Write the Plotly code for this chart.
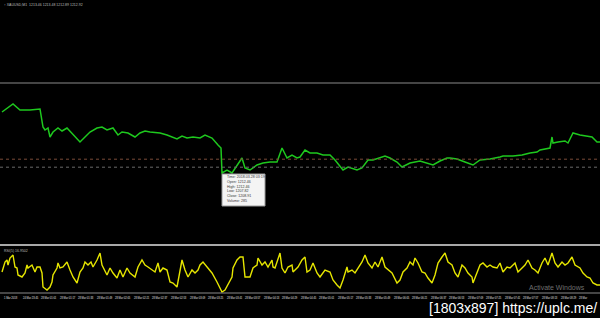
import plotly.graph_objects as go

W, H = 600, 318

# ---------------- data ----------------
bar_idx = [2, 13, 20, 30, 40, 41, 43, 45, 48, 50,
           53, 58, 62, 67, 70, 75, 80, 85, 90, 97,
           102, 107, 113, 118, 122, 128, 135, 140, 145, 150,
           160, 167, 177, 182, 187, 193, 200, 205, 212, 218,
           221, 222, 227, 232, 237, 242, 245, 250, 257, 263,
           270, 277, 282, 287, 292, 297, 300, 305, 310, 317,
           323, 330, 335, 343, 348, 357, 362, 368, 373, 380,
           385, 390, 397, 402, 410, 420, 427, 433, 440, 447,
           450, 457, 465, 473, 480, 490, 500, 503, 513, 522,
           530, 537, 540, 550, 552, 553, 558, 565, 568, 573,
           580, 587, 592, 597, 600]
close_price = [1223.00, 1225.00, 1223.50, 1223.50, 1223.75, 1221.75, 1219.25, 1218.50, 1219.00, 1216.75,
               1218.00, 1219.00, 1218.25, 1219.00, 1218.25, 1216.75, 1215.50, 1216.75, 1218.00, 1219.00,
               1219.25, 1218.50, 1219.00, 1217.25, 1218.00, 1217.75, 1216.75, 1217.75, 1218.25, 1218.00,
               1217.75, 1217.25, 1216.25, 1217.00, 1216.50, 1216.75, 1216.50, 1217.25, 1216.50, 1214.75,
               1214.00, 1207.75, 1208.50, 1207.75, 1209.75, 1211.50, 1209.00, 1208.50, 1209.75, 1210.25,
               1210.50, 1210.50, 1214.00, 1211.50, 1212.25, 1211.50, 1211.75, 1213.50, 1212.75, 1212.75,
               1212.25, 1212.25, 1211.00, 1208.50, 1209.25, 1208.50, 1209.00, 1211.00, 1211.00, 1211.50,
               1212.00, 1211.50, 1210.50, 1209.25, 1210.25, 1210.75, 1210.25, 1209.75, 1210.75, 1211.50,
               1211.50, 1211.25, 1210.50, 1209.75, 1211.00, 1211.25, 1211.75, 1212.00, 1212.00, 1212.25,
               1212.75, 1213.00, 1213.50, 1214.00, 1216.75, 1215.25, 1215.50, 1215.75, 1215.25, 1217.75,
               1217.25, 1217.00, 1216.75, 1215.50, 1215.50]

rsi_idx = [2, 5, 7, 8, 10, 13, 15, 17, 18, 22,
           25, 27, 28, 32, 35, 37, 40, 42, 43, 47,
           50, 52, 53, 57, 58, 60, 63, 67, 70, 73,
           77, 80, 83, 85, 88, 91, 93, 97, 100, 102,
           107, 110, 113, 117, 120, 123, 127, 130, 135, 138,
           142, 145, 148, 152, 155, 158, 160, 163, 167, 170,
           173, 177, 180, 182, 185, 188, 192, 195, 198,
           200, 203, 207, 212, 217, 222, 225, 228, 232, 233,
           237, 240, 243, 245, 250, 253, 257, 258, 262, 265,
           268, 272, 273, 275, 278, 280, 282, 285, 288, 292,
           293, 298, 302, 305, 307, 310, 313, 317, 320, 325,
           330, 333, 337, 340, 343, 347, 348, 352, 355, 358,
           362, 365, 368, 372, 375, 378, 382, 385, 388, 392,
           397,
           400, 403, 407, 410, 413, 415, 418, 422, 425, 428,
           432, 435, 438, 442, 445, 448, 452, 455, 458, 462,
           465, 468, 472, 473, 477, 480, 483, 487, 490, 493,
           497, 500, 503, 507, 510, 515, 518, 522, 525, 528,
           532, 535, 538, 542, 545, 548, 552, 555, 558, 562,
           565, 568, 572, 575, 580, 583, 587, 590, 593, 597, 600]
rsi_val = [42, 62, 66, 56, 70, 76, 52, 50, 36, 32,
           40, 56, 50, 56, 42, 52, 52, 40, 12, 6,
           12, 22, 36, 50, 60, 50, 52, 62, 46, 32,
           20, 42, 50, 62, 56, 62, 52, 66, 80, 56,
           36, 50, 40, 30, 46, 32, 50, 40, 32, 52,
           66, 56, 52, 46, 42, 60, 42, 50, 46, 22,
           20, 12, 46, 66, 46, 32, 46, 40, 46,
           56, 62, 52, 40, 22, 2, 6, 16, 32, 50,
           66, 72, 72, 32, 32, 50, 56, 70, 56, 62,
           52, 66, 52, 50, 66, 80, 50, 40, 52, 56,
           42, 52, 66, 72, 42, 46, 60, 40, 32, 46,
           42, 26, 16, 10, 26, 52, 42, 46, 40, 50,
           62, 76, 60, 50, 62, 52, 72, 52, 46, 40,
           20,
           26, 42, 50, 62, 56, 70, 60, 42, 40, 30,
           20, 36, 60, 72, 80, 62, 56, 40, 32, 56,
           50, 40, 32, 20, 40, 56, 60, 52, 56, 52,
           50, 60, 42, 52, 50, 60, 42, 50, 56, 66,
           50, 46, 40, 60, 70, 56, 80, 60, 52, 62,
           56, 60, 72, 56, 50, 40, 32, 30, 20, 16, 16]

time_labels = ["1 Mar 2018", "24 Mar 23:45", "28 Mar 01:01", "28 Mar 01:17", "28 Mar 01:33",
               "28 Mar 01:49", "28 Mar 02:05", "28 Mar 02:21", "28 Mar 02:37", "28 Mar 02:53",
               "28 Mar 03:09", "28 Mar 03:25", "28 Mar 03:41", "28 Mar 03:57", "28 Mar 04:13",
               "28 Mar 04:29", "28 Mar 04:45", "28 Mar 05:01", "28 Mar 05:17", "28 Mar 05:33",
               "28 Mar 05:49", "28 Mar 06:05", "28 Mar 06:21", "28 Mar 06:37", "28 Mar 06:53",
               "28 Mar 07:09", "28 Mar 07:25", "28 Mar 07:41", "28 Mar 07:57", "28 Mar 08:13",
               "28 Mar 08:29", "28 Mar"]

header_text = "↑ XAUUSD,M1  1213.46 1213.48 1212.89 1212.92"
rsi_label = "RSI(5) 16.9502"
resistance_level = 1230.25
ask_level = 1211.20
bid_level = 1209.20
tooltip_lines = ["Time: 2018.03.28 03:19", "Open: 1212.46", "High: 1212.46",
                 "Low: 1207.82", "Close: 1208.91", "Volume: 285"]


def px(x):
    return x / W


def py(y):
    return 1 - y / H


fig = go.Figure()
fig.add_trace(go.Scatter(x=bar_idx, y=close_price, mode="lines",
                         line=dict(color="#1ec81e", width=1.5), xaxis="x", yaxis="y",
                         hoverinfo="skip"))
fig.add_trace(go.Scatter(x=rsi_idx, y=rsi_val, mode="lines",
                         line=dict(color="#e6e600", width=1.4), xaxis="x2", yaxis="y2",
                         hoverinfo="skip"))

shapes = [
    dict(type="line", xref="paper", x0=0, x1=1, yref="y", y0=resistance_level, y1=resistance_level,
         line=dict(color="#8a8a8a", width=1)),
    dict(type="line", xref="paper", x0=0, x1=1, yref="y", y0=ask_level, y1=ask_level,
         line=dict(color="#7a4a38", width=1, dash="dot")),
    dict(type="line", xref="paper", x0=0, x1=1, yref="y", y0=bid_level, y1=bid_level,
         line=dict(color="#6a6a6a", width=1, dash="dot")),
    dict(type="line", xref="paper", x0=0, x1=1, yref="paper", y0=py(245), y1=py(245),
         line=dict(color="#a8a8a8", width=2)),
    dict(type="line", xref="paper", x0=0, x1=1, yref="paper", y0=py(293), y1=py(293),
         line=dict(color="#8a8a8a", width=1)),
    # tooltip box
    dict(type="rect", xref="paper", yref="paper", x0=px(222), x1=px(265), y0=py(206), y1=py(174),
         fillcolor="#f4f4f4", line=dict(color="#9a9a9a", width=1)),
]

annotations = [
    dict(text=header_text, x=px(2), y=py(1), xref="paper", yref="paper", xanchor="left", yanchor="top",
         showarrow=False, font=dict(size=3.5, color="#bbbbbb", family="Liberation Sans")),
    dict(text=rsi_label, x=px(2), y=py(247), xref="paper", yref="paper", xanchor="left", yanchor="top",
         showarrow=False, font=dict(size=3.5, color="#bbbbbb", family="Liberation Sans")),
    dict(text="Activate Windows", x=px(527), y=py(287), xref="paper", yref="paper", xanchor="left",
         yanchor="middle", showarrow=False, font=dict(size=7, color="#6f6f6f", family="Liberation Sans")),
    dict(text="[1803x897] https://uplc.me/", x=px(599), y=0, xref="paper", yref="paper",
         xanchor="right", yanchor="bottom", showarrow=False,
         font=dict(size=14, color="#ffffff", family="Liberation Sans")),
]
for i, t in enumerate(tooltip_lines):
    annotations.append(dict(text=t, x=px(225), y=py(177 + i * 4.8), xref="paper", yref="paper",
                            xanchor="left", yanchor="middle", showarrow=False,
                            font=dict(size=3.6, color="#333333", family="Liberation Sans")))

step = 18.55
for k, lab in enumerate(time_labels):
    annotations.append(dict(text=lab, x=px(2 + k * step), y=py(294.3), xref="paper", yref="paper",
                            xanchor="left", yanchor="top", showarrow=False,
                            font=dict(size=2.6, color="#e0e0e0", family="Liberation Sans")))

fig.update_layout(
    width=W, height=H, margin=dict(l=0, r=0, t=0, b=0),
    paper_bgcolor="#000000", plot_bgcolor="#000000", showlegend=False,
    xaxis=dict(domain=[0, 1], range=[0, 600], visible=False, anchor="y"),
    yaxis=dict(domain=[py(243), 1], range=[1251 - 0.25 * 243, 1251], visible=False),
    xaxis2=dict(domain=[0, 1], range=[0, 600], visible=False, anchor="y2"),
    yaxis2=dict(domain=[py(293), py(243)], range=[0, 100], visible=False),
    shapes=shapes, annotations=annotations,
)

fig.write_html("out.html")
